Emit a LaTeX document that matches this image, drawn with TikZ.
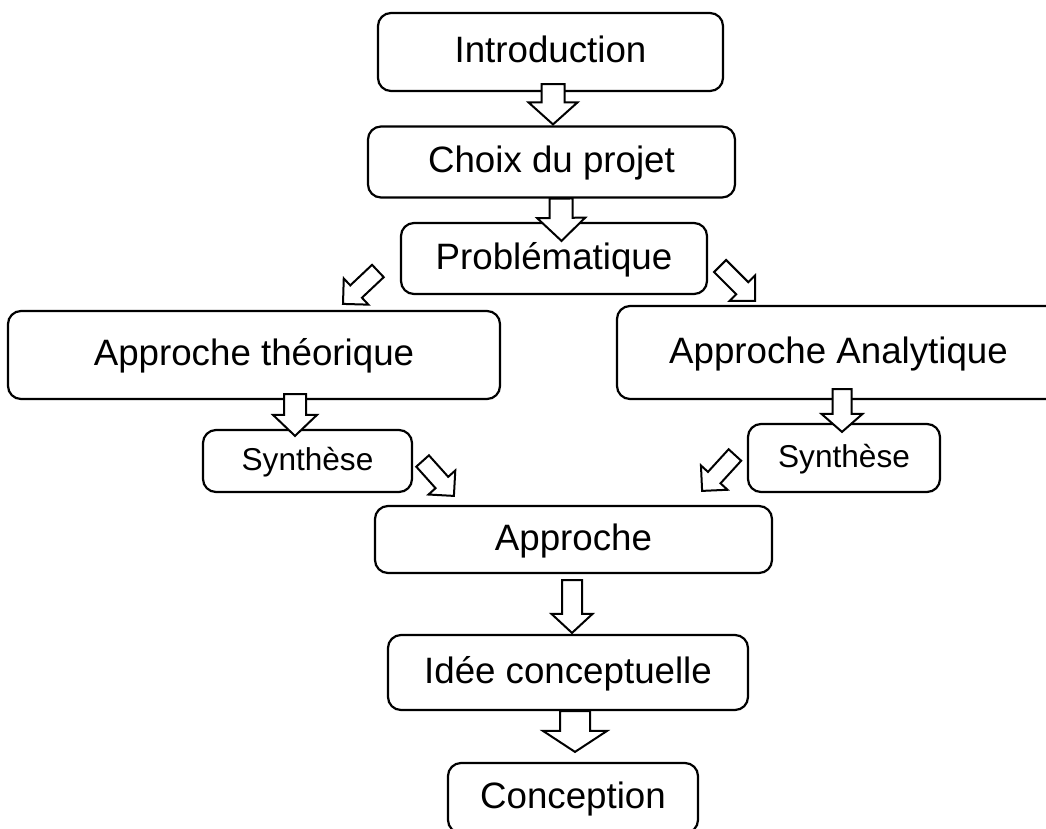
\documentclass[tikz,border=0pt]{standalone}
\usepackage{fontspec}
\setmainfont{Liberation Sans}
\usetikzlibrary{calc}

\tikzset{
	etape/.style={draw, line width=2.2pt, rounded corners=13pt, fill=white, inner sep=0pt, text height=26.3pt, text depth=4.4pt, font=\fontsize{36.7}{44}\selectfont},
	petite/.style={etape, text height=22.6pt, text depth=3.8pt, font=\fontsize{31.6}{38}\selectfont},
	fleche/.style={draw, line width=2pt, fill=white, line join=miter}
}
% fleche bloc : depart, pointe, demi-largeur du corps, demi-largeur de la tete, longueur de la tete
\newcommand{\bloc}[5]{%
	\coordinate (fa) at (#1); \coordinate (fb) at (#2);
	\coordinate (fh) at ($(fb)!#5!(fa)$);
	\draw[fleche] ($(fa)!#3!90:(fb)$) -- ($(fh)!#3!90:(fb)$) -- ($(fh)!#4!90:(fb)$) -- (fb) -- ($(fh)!#4!-90:(fb)$) -- ($(fh)!#3!-90:(fb)$) -- ($(fa)!#3!-90:(fb)$) -- cycle;}

\begin{document}
\begin{tikzpicture}[x=1pt,y=-1pt]
			\clip (0,0) rectangle (1046,828);
			\fill[white] (0,0) rectangle (1046,828);
			\node[etape, minimum width=345pt, minimum height=78pt] (intro) at (550.5,52) {Introduction};
			\node[etape, minimum width=367pt, minimum height=71pt] (choix) at (551.5,162) {Choix du projet};
			\node[etape, minimum width=306pt, minimum height=71pt] (probl) at (554,258.5) {Problématique};
			\node[etape, minimum width=492pt, minimum height=88pt] (theo) at (254,355) {Approche théorique};
			\node[etape, minimum width=443pt, minimum height=93pt] (analy) at (838.5,352.5) {Approche Analytique};
			\node[petite, minimum width=209pt, minimum height=62pt] (synthG) at (307.5,461) {Synthèse};
			\node[petite, minimum width=192pt, minimum height=68pt] (synthD) at (844,458) {Synthèse};
			\node[etape, minimum width=397pt, minimum height=67pt] (appro) at (573.5,539.5) {Approche};
			\node[etape, minimum width=360pt, minimum height=75pt] (idee) at (568,672.5) {Idée conceptuelle};
			\node[etape, minimum width=250pt, minimum height=70pt] (concep) at (573,798) {Conception};
			% fleches
			\bloc{[xshift=2.5pt,yshift=8pt]intro.south}{[xshift=1.5pt,yshift=1pt]choix.north}{11.5pt}{24.5pt}{22pt}
			\bloc{[xshift=9.5pt]choix.south}{[xshift=7.5pt,yshift=-19pt]probl.north}{11.5pt}{24pt}{23pt}
			\bloc{[xshift=-22pt,yshift=-12.5pt]probl.west}{[xshift=89pt,yshift=6pt]theo.north}{8.5pt}{18pt}{18pt}
			\bloc{[xshift=12pt,yshift=-7.5pt]probl.east}{[xshift=-83.5pt,yshift=4pt]analy.north}{8.5pt}{18pt}{18pt}
			\bloc{[xshift=41pt,yshift=6pt]theo.south}{[xshift=-12.5pt,yshift=-7pt]synthG.north}{11pt}{22pt}{21pt}
			\bloc{[xshift=9.5pt]synthG.east}{[xshift=80pt,yshift=9pt]appro.north west}{8.5pt}{18pt}{18pt}
			\bloc{[xshift=3.5pt,yshift=11pt]analy.south}{[xshift=-2pt,yshift=-9pt]synthD.north}{9.5pt}{20.5pt}{18pt}
			\bloc{[xshift=-12pt,yshift=3pt]synthD.west}{[xshift=-71pt,yshift=14pt]appro.north east}{8.5pt}{18pt}{18pt}
			\bloc{[xshift=-1.5pt,yshift=-6pt]appro.south}{[xshift=4pt,yshift=1pt]idee.north}{10pt}{20.5pt}{19pt}
			\bloc{[xshift=7pt]idee.south}{[xshift=2pt,yshift=10pt]concep.north}{15pt}{32pt}{21pt}
\end{tikzpicture}
\end{document}
